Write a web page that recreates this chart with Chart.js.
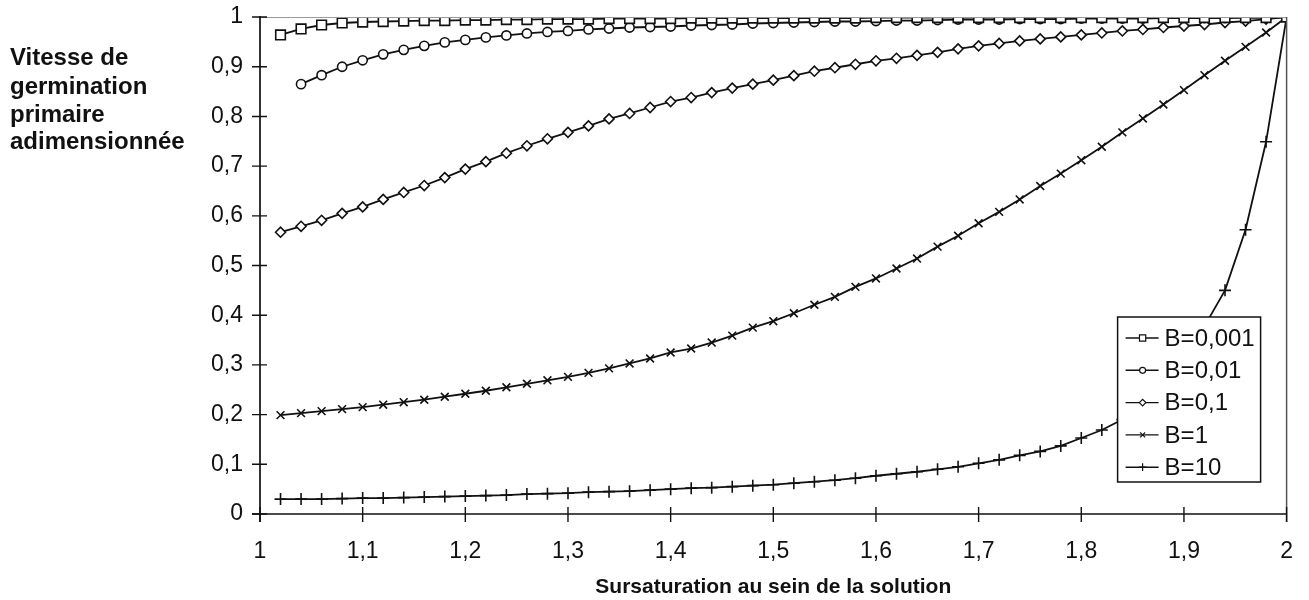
<!DOCTYPE html>
<html><head><meta charset="utf-8">
<script src="https://cdn.jsdelivr.net/npm/chart.js@4/dist/chart.umd.min.js"></script>
<style>html,body{margin:0;padding:0;background:#fff}#wrap{width:1309px;height:600px;position:relative}</style>
</head><body><div id="wrap"><canvas id="c" width="1309" height="600"></canvas></div>
<script>
// ---- data ----
const sursaturation = [1.02,1.04,1.06,1.08,1.10,1.12,1.14,1.16,1.18,1.20,1.22,1.24,1.26,1.28,1.30,1.32,1.34,1.36,1.38,1.40,1.42,1.44,1.46,1.48,1.50,1.52,1.54,1.56,1.58,1.60,1.62,1.64,1.66,1.68,1.70,1.72,1.74,1.76,1.78,1.80,1.82,1.84,1.86,1.88,1.90,1.92,1.94,1.96,1.98,2.00];
const seriesNames = ['B=0,001','B=0,01','B=0,1','B=1','B=10'];
const b0001 = [0.964,0.976,0.984,0.988,0.990,0.991,0.992,0.993,0.993,0.994,0.994,0.995,0.995,0.996,0.996,0.996,0.997,0.997,0.997,0.997,0.998,0.998,0.998,0.998,0.998,0.998,0.998,0.998,0.998,0.999,0.999,0.999,0.999,0.999,0.999,0.999,0.999,0.999,0.999,0.999,0.999,0.999,0.999,0.999,0.999,0.999,0.999,0.999,0.999,1.0];
const b001 = [null,0.865,0.883,0.900,0.913,0.925,0.934,0.942,0.949,0.954,0.959,0.963,0.967,0.970,0.972,0.975,0.977,0.979,0.980,0.981,0.983,0.984,0.985,0.987,0.988,0.989,0.990,0.991,0.991,0.992,0.993,0.993,0.994,0.995,0.995,0.995,0.996,0.996,0.996,0.997,0.997,0.997,0.997,0.998,0.998,0.998,0.998,0.999,0.999,1.0];
const b01 = [0.567,0.579,0.591,0.605,0.618,0.633,0.647,0.661,0.677,0.694,0.709,0.726,0.741,0.755,0.768,0.781,0.795,0.806,0.818,0.830,0.838,0.848,0.857,0.865,0.873,0.882,0.891,0.898,0.905,0.912,0.917,0.923,0.929,0.936,0.942,0.947,0.952,0.956,0.960,0.964,0.968,0.972,0.975,0.979,0.982,0.985,0.989,0.992,0.996,1.0];
const b1 = [0.199,0.203,0.207,0.211,0.215,0.220,0.225,0.230,0.236,0.242,0.248,0.255,0.262,0.269,0.276,0.284,0.293,0.303,0.313,0.325,0.333,0.345,0.359,0.375,0.388,0.404,0.421,0.437,0.457,0.474,0.494,0.514,0.538,0.560,0.585,0.608,0.633,0.660,0.685,0.712,0.739,0.768,0.796,0.824,0.853,0.883,0.912,0.940,0.969,1.0];
const b10 = [0.030,0.030,0.030,0.031,0.032,0.032,0.033,0.034,0.035,0.036,0.037,0.038,0.040,0.041,0.042,0.044,0.045,0.046,0.048,0.050,0.052,0.053,0.055,0.057,0.059,0.062,0.065,0.068,0.072,0.077,0.081,0.085,0.090,0.095,0.102,0.109,0.118,0.126,0.137,0.153,0.169,0.190,0.220,0.260,0.310,0.378,0.450,0.572,0.749,1.0];
const yTitleLines = ['Vitesse de','germination','primaire','adimensionnée'];
const xTitle = 'Sursaturation au sein de la solution';

const FONT = "'Liberation Sans', Arial, Helvetica, sans-serif";
const styles = [
  {pointStyle:'rect', radius:6.8},
  {pointStyle:'circle', radius:4.6},
  {pointStyle:'rectRot', radius:5},
  {pointStyle:'crossRot', radius:5.5},
  {pointStyle:'cross', radius:6}
];
const allSeries = [b0001,b001,b01,b1,b10];

function toPoints(arr){
  const out=[];
  for(let i=0;i<sursaturation.length;i++){ if(arr[i]!==null) out.push({x:sursaturation[i], y:arr[i]}); }
  return out;
}
function fmt(v){ return String(Number(v.toFixed(1))).replace('.', ','); }

const datasets = allSeries.map((arr,i)=>({
  label: seriesNames[i],
  data: toPoints(arr),
  borderColor:'#111', borderWidth:1.8, tension:0,
  pointStyle: styles[i].pointStyle, pointRadius: styles[i].radius,
  pointBackgroundColor:'#fff', pointBorderColor:'#111', pointBorderWidth:1.6,
  pointHoverRadius: styles[i].radius
}));

function drawMarker(ctx, style, radius, x, y){
  if (Chart.helpers && Chart.helpers.drawPoint) {
    Chart.helpers.drawPoint(ctx, {pointStyle:style, radius:radius, rotation:0, borderWidth:1.2}, x, y);
  }
}

const frame = {
  id:'frame',
  afterDatasetsDraw(chart){
    const {ctx, chartArea:a, scales} = chart;
    const xs = scales.x, ys = scales.y;
    ctx.save();
    ctx.strokeStyle='#999'; ctx.lineWidth=1;
    ctx.beginPath(); ctx.moveTo(a.left,a.top+0.5); ctx.lineTo(a.right,a.top+0.5); ctx.stroke();
    ctx.strokeStyle='#555'; ctx.lineWidth=1.5;
    ctx.beginPath(); ctx.moveTo(a.right,a.top); ctx.lineTo(a.right,a.bottom+8); ctx.stroke();
    ctx.strokeStyle='#111'; ctx.lineWidth=1.7;
    ctx.beginPath();
    ctx.moveTo(a.left,a.top-1); ctx.lineTo(a.left,a.bottom+8);
    ctx.moveTo(a.left-8,a.bottom); ctx.lineTo(a.right,a.bottom);
    ctx.stroke();
    ctx.lineWidth=1.4; ctx.beginPath();
    ys.ticks.forEach(t=>{const p=ys.getPixelForValue(t.value); ctx.moveTo(a.left-8,p); ctx.lineTo(a.left+7,p);});
    xs.ticks.forEach(t=>{const p=xs.getPixelForValue(t.value); ctx.moveTo(p,a.bottom-7); ctx.lineTo(p,a.bottom+8);});
    ctx.stroke();
    ctx.restore();
  }
};

const legendBox = {
  id:'legendBox',
  afterDatasetsDraw(chart){
    const {ctx, chartArea:a} = chart;
    const left=a.right-169, right=a.right-26, top=a.bottom-197, bottom=a.bottom-32;
    ctx.save();
    ctx.fillStyle='#fff'; ctx.fillRect(left,top,right-left,bottom-top);
    ctx.strokeStyle='#111'; ctx.lineWidth=1.5; ctx.strokeRect(left,top,right-left,bottom-top);
    ctx.font = '24px '+FONT; ctx.textBaseline='middle'; ctx.textAlign='left';
    seriesNames.forEach((name,i)=>{
      const cy = top + 21 + i*32.3;
      ctx.strokeStyle='#111'; ctx.lineWidth=1.4;
      ctx.beginPath(); ctx.moveTo(left+8,cy); ctx.lineTo(left+41,cy); ctx.stroke();
      ctx.fillStyle='#fff'; ctx.strokeStyle='#111'; ctx.lineWidth=1.2;
      drawMarker(ctx, styles[i].pointStyle, styles[i].radius*0.65, left+25, cy);
      ctx.fillStyle='#111';
      ctx.fillText(name, left+47, cy+1);
    });
    ctx.restore();
  }
};

const yTitle = {
  id:'yTitle',
  afterDraw(chart){
    const ctx = chart.ctx;
    ctx.save();
    ctx.font = 'bold 24px '+FONT; ctx.fillStyle='#111'; ctx.textAlign='left'; ctx.textBaseline='alphabetic';
    const base=[65,94,122,149];
    yTitleLines.forEach((l,i)=>ctx.fillText(l,10,base[i]));
    ctx.restore();
  }
};

new Chart(document.getElementById('c'), {
  type:'line',
  data:{datasets},
  options:{
    responsive:false, animation:false,
    layout:{padding:{top:0,right:15,left:0,bottom:0}},
    plugins:{legend:{display:false}, tooltip:{enabled:false}},
    scales:{
      x:{type:'linear', min:1, max:2,
        grid:{display:false}, border:{display:false},
        ticks:{stepSize:0.1, padding:16, color:'#111', font:{family:FONT,size:23}, callback:(v)=>fmt(v), maxRotation:0, autoSkip:false},
        title:{display:true, text:xTitle, color:'#111', font:{family:FONT,size:21,weight:'bold'}, padding:{top:0,bottom:0}},
        afterFit:(s)=>{s.height=86;}
      },
      y:{type:'linear', min:0, max:1,
        grid:{display:false}, border:{display:false},
        ticks:{stepSize:0.1, padding:9, color:'#111', font:{family:FONT,size:23,lineHeight:0.7}, callback:(v)=>fmt(v)},
        afterFit:(s)=>{s.width=260;}
      }
    }
  },
  plugins:[frame, legendBox, yTitle]
});
</script>
</body></html>
